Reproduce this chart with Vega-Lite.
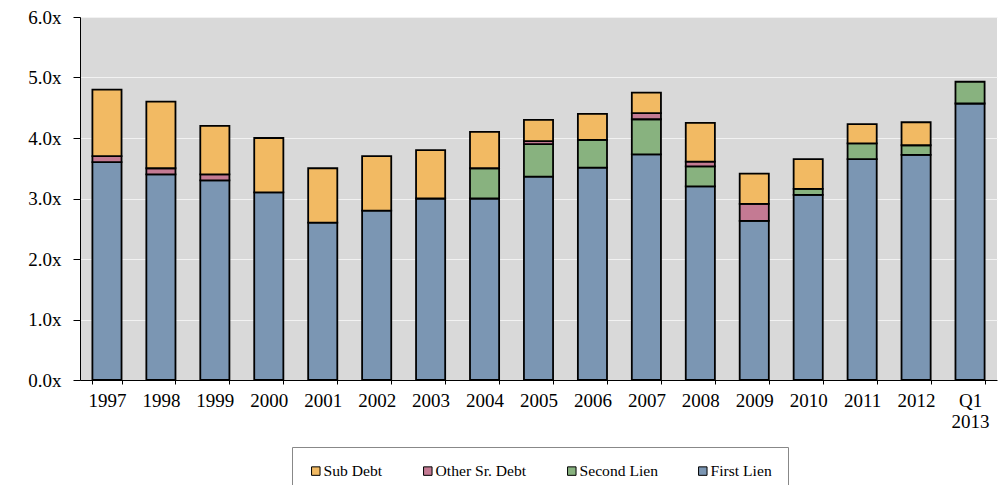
{
  "$schema": "https://vega.github.io/schema/vega-lite/v6.json",
  "width": 917,
  "height": 363,
  "autosize": {"type": "none"},
  "padding": {"left": 80, "top": 17, "right": 4, "bottom": 105},
  "background": "#ffffff",
  "data": {
    "values": [
      {"year": "1997", "type": "First Lien", "value": 3.6},
      {"year": "1997", "type": "Other Sr. Debt", "value": 0.1},
      {"year": "1997", "type": "Sub Debt", "value": 1.1},
      {"year": "1998", "type": "First Lien", "value": 3.4},
      {"year": "1998", "type": "Other Sr. Debt", "value": 0.1},
      {"year": "1998", "type": "Sub Debt", "value": 1.1},
      {"year": "1999", "type": "First Lien", "value": 3.3},
      {"year": "1999", "type": "Other Sr. Debt", "value": 0.1},
      {"year": "1999", "type": "Sub Debt", "value": 0.8},
      {"year": "2000", "type": "First Lien", "value": 3.1},
      {"year": "2000", "type": "Sub Debt", "value": 0.9},
      {"year": "2001", "type": "First Lien", "value": 2.6},
      {"year": "2001", "type": "Sub Debt", "value": 0.9},
      {"year": "2002", "type": "First Lien", "value": 2.8},
      {"year": "2002", "type": "Sub Debt", "value": 0.9},
      {"year": "2003", "type": "First Lien", "value": 3.0},
      {"year": "2003", "type": "Sub Debt", "value": 0.8},
      {"year": "2004", "type": "First Lien", "value": 3.0},
      {"year": "2004", "type": "Second Lien", "value": 0.5},
      {"year": "2004", "type": "Sub Debt", "value": 0.6},
      {"year": "2005", "type": "First Lien", "value": 3.36},
      {"year": "2005", "type": "Second Lien", "value": 0.54},
      {"year": "2005", "type": "Other Sr. Debt", "value": 0.05},
      {"year": "2005", "type": "Sub Debt", "value": 0.35},
      {"year": "2006", "type": "First Lien", "value": 3.51},
      {"year": "2006", "type": "Second Lien", "value": 0.46},
      {"year": "2006", "type": "Sub Debt", "value": 0.43},
      {"year": "2007", "type": "First Lien", "value": 3.73},
      {"year": "2007", "type": "Second Lien", "value": 0.58},
      {"year": "2007", "type": "Other Sr. Debt", "value": 0.1},
      {"year": "2007", "type": "Sub Debt", "value": 0.34},
      {"year": "2008", "type": "First Lien", "value": 3.2},
      {"year": "2008", "type": "Second Lien", "value": 0.33},
      {"year": "2008", "type": "Other Sr. Debt", "value": 0.08},
      {"year": "2008", "type": "Sub Debt", "value": 0.64},
      {"year": "2009", "type": "First Lien", "value": 2.63},
      {"year": "2009", "type": "Other Sr. Debt", "value": 0.28},
      {"year": "2009", "type": "Sub Debt", "value": 0.5},
      {"year": "2010", "type": "First Lien", "value": 3.06},
      {"year": "2010", "type": "Second Lien", "value": 0.1},
      {"year": "2010", "type": "Sub Debt", "value": 0.49},
      {"year": "2011", "type": "First Lien", "value": 3.65},
      {"year": "2011", "type": "Second Lien", "value": 0.26},
      {"year": "2011", "type": "Sub Debt", "value": 0.32},
      {"year": "2012", "type": "First Lien", "value": 3.72},
      {"year": "2012", "type": "Second Lien", "value": 0.16},
      {"year": "2012", "type": "Sub Debt", "value": 0.38},
      {"year": "Q1 2013", "type": "First Lien", "value": 4.57},
      {"year": "Q1 2013", "type": "Second Lien", "value": 0.36}
    ]
  },
  "transform": [
    {"calculate": "indexof(['First Lien','Second Lien','Other Sr. Debt','Sub Debt'], datum.type)", "as": "stackOrder"}
  ],
  "mark": {"type": "bar", "stroke": "#000000", "strokeWidth": 1.8},
  "encoding": {
    "x": {
      "field": "year",
      "type": "ordinal",
      "sort": null,
      "scale": {"paddingInner": 0.46, "paddingOuter": 0.23},
      "axis": {
        "title": null,
        "labelAngle": 0,
        "labelExpr": "datum.label == 'Q1 2013' ? ['Q1', '2013'] : datum.label",
        "labelLineHeight": 21,
        "tickBand": "extent",
        "tickSize": 4,
        "labelPadding": 7,
        "domainColor": "#000000",
        "tickColor": "#000000",
        "labelFont": "Liberation Serif",
        "labelFontSize": 19,
        "labelColor": "#000000",
        "grid": false
      }
    },
    "y": {
      "field": "value",
      "type": "quantitative",
      "stack": "zero",
      "scale": {"domain": [0, 6], "nice": false},
      "axis": {
        "title": null,
        "values": [0, 1, 2, 3, 4, 5, 6],
        "labelExpr": "format(datum.value, '.1f') + 'x'",
        "tickSize": 7,
        "labelPadding": 12,
        "domainColor": "#000000",
        "tickColor": "#000000",
        "labelFont": "Liberation Serif",
        "labelFontSize": 19,
        "labelColor": "#000000",
        "grid": true,
        "gridColor": "#f2f2f2",
        "gridWidth": 1
      }
    },
    "color": {
      "field": "type",
      "type": "nominal",
      "scale": {
        "domain": ["Sub Debt", "Other Sr. Debt", "Second Lien", "First Lien"],
        "range": ["#f2ba63", "#c47a93", "#88b27f", "#7b96b3"]
      },
      "legend": {
        "title": null,
        "orient": "none",
        "direction": "horizontal",
        "columns": 4,
        "legendX": 212,
        "legendY": 430,
        "padding": 16,
        "columnPadding": 37,
        "strokeColor": "#888888",
        "fillColor": "#ffffff",
        "symbolType": "square",
        "symbolSize": 72,
        "symbolStrokeColor": "#000000",
        "symbolStrokeWidth": 1,
        "symbolOpacity": 1,
        "labelOffset": 0,
        "labelFont": "Liberation Serif",
        "labelFontSize": 15.6,
        "labelColor": "#000000"
      }
    },
    "order": {"field": "stackOrder", "type": "quantitative", "sort": "ascending"}
  },
  "config": {
    "view": {"fill": "#d9d9d9", "stroke": null}
  }
}
